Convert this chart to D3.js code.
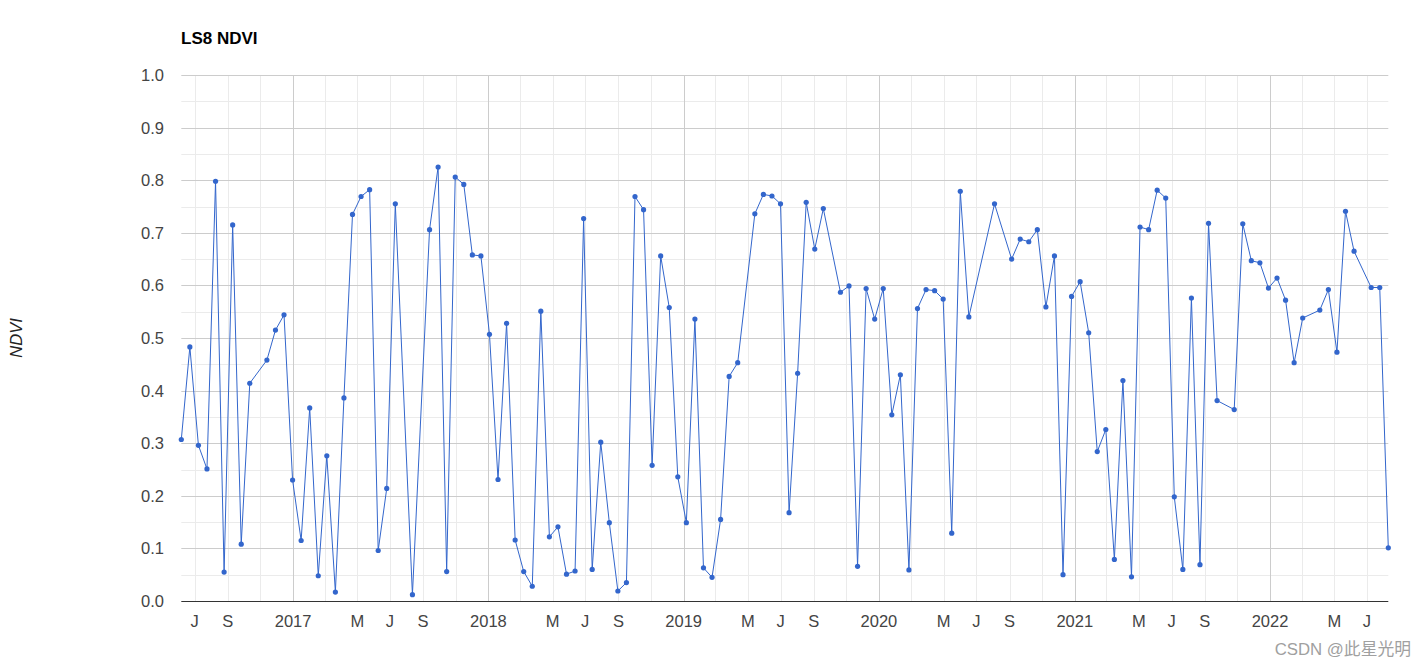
<!DOCTYPE html>
<html>
<head>
<meta charset="utf-8">
<script src="https://cdn.jsdelivr.net/npm/d3@7"></script>
<style>
  html, body { margin: 0; padding: 0; background: #fff; }
  svg { display: block; font-family: Arial, "Liberation Sans", sans-serif; }
</style>
</head>
<body>
<svg id="chart" width="1426" height="667"></svg>
<script>
// ---- Data ----
const chartTitle = "LS8 NDVI";
const yAxisTitle = "NDVI";
const watermark = "CSDN @此星光明";

const dates = [
  "2016-06-06","2016-06-22","2016-07-08","2016-07-24","2016-08-09","2016-08-25","2016-09-10","2016-09-26",
  "2016-10-12","2016-11-13","2016-11-29","2016-12-15","2016-12-31","2017-01-16","2017-02-01","2017-02-17",
  "2017-03-05","2017-03-21","2017-04-06","2017-04-22","2017-05-08","2017-05-24","2017-06-09","2017-06-25",
  "2017-07-11","2017-08-12","2017-09-13","2017-09-29","2017-10-15","2017-10-31","2017-11-16","2017-12-02",
  "2017-12-18","2018-01-03","2018-01-19","2018-02-04","2018-02-20","2018-03-08","2018-03-24","2018-04-09",
  "2018-04-25","2018-05-11","2018-05-27","2018-06-12","2018-06-28","2018-07-14","2018-07-30","2018-08-15",
  "2018-08-31","2018-09-16","2018-10-02","2018-10-18","2018-11-03","2018-11-19","2018-12-05","2018-12-21",
  "2019-01-06","2019-01-22","2019-02-07","2019-02-23","2019-03-11","2019-03-27","2019-04-12","2019-05-14",
  "2019-05-30","2019-06-15","2019-07-01","2019-07-17","2019-08-02","2019-08-18","2019-09-03","2019-09-19",
  "2019-10-21","2019-11-06","2019-11-22","2019-12-08","2019-12-24","2020-01-09","2020-01-25","2020-02-10",
  "2020-02-26","2020-03-13","2020-03-29","2020-04-14","2020-04-30","2020-05-16","2020-06-01","2020-06-17",
  "2020-08-04","2020-09-05","2020-09-21","2020-10-07","2020-10-23","2020-11-08","2020-11-24","2020-12-10",
  "2020-12-26","2021-01-11","2021-01-27","2021-02-12","2021-02-28","2021-03-16","2021-04-01","2021-04-17",
  "2021-05-03","2021-05-19","2021-06-04","2021-06-20","2021-07-06","2021-07-22","2021-08-07","2021-08-23",
  "2021-09-08","2021-09-24","2021-10-26","2021-11-11","2021-11-27","2021-12-13","2021-12-29","2022-01-14",
  "2022-01-30","2022-02-15","2022-03-03","2022-04-04","2022-04-20","2022-05-06","2022-05-22","2022-06-07",
  "2022-07-09","2022-07-25","2022-08-10"
];

const ndvi = [
  0.307,0.483,0.296,0.251,0.798,0.055,0.715,0.108,
  0.414,0.458,0.515,0.544,0.230,0.115,0.367,0.048,
  0.276,0.017,0.386,0.735,0.769,0.782,0.096,0.214,
  0.755,0.012,0.706,0.825,0.056,0.806,0.792,0.658,
  0.656,0.507,0.231,0.528,0.116,0.056,0.028,0.551,
  0.122,0.141,0.051,0.057,0.727,0.060,0.302,0.149,
  0.019,0.035,0.769,0.744,0.258,0.656,0.558,0.236,
  0.149,0.536,0.063,0.045,0.155,0.427,0.453,0.736,
  0.773,0.770,0.755,0.168,0.433,0.758,0.669,0.746,
  0.587,0.599,0.066,0.594,0.536,0.594,0.354,0.430,
  0.059,0.556,0.592,0.590,0.574,0.129,0.779,0.540,
  0.755,0.650,0.688,0.683,0.706,0.559,0.656,0.050,
  0.579,0.607,0.510,0.284,0.326,0.079,0.419,0.046,
  0.711,0.706,0.781,0.766,0.198,0.060,0.576,0.069,
  0.718,0.381,0.364,0.717,0.647,0.643,0.595,0.614,
  0.572,0.453,0.538,0.553,0.592,0.473,0.741,0.665,
  0.596,0.596,0.101
];

const yTicks = [0.0, 0.1, 0.2, 0.3, 0.4, 0.5, 0.6, 0.7, 0.8, 0.9, 1.0];
const yMinorTicks = [0.05, 0.15, 0.25, 0.35, 0.45, 0.55, 0.65, 0.75, 0.85, 0.95];
const monthLabels = {4: "M", 6: "J", 8: "S"}; // May, Jul, Sep; January shows the year

// ---- Build ----
(function () {
const parse = d3.timeParse("%Y-%m-%d");
const data = dates.map((d, i) => ({date: parse(d), value: ndvi[i]}));

const svg = d3.select("#chart");
const pLeft = 181.3, pRight = 1388.3, pTop = 75, pBottom = 601;

const x = d3.scaleTime()
  .domain(d3.extent(data, d => d.date))
  .range([pLeft, pRight]);
const y = d3.scaleLinear().domain([0, 1]).range([pBottom, pTop]);

// minor horizontal grid
svg.append("g").selectAll("line").data(yMinorTicks).join("line")
  .attr("x1", pLeft).attr("x2", pRight)
  .attr("y1", d => Math.round(y(d)) + 0.5).attr("y2", d => Math.round(y(d)) + 0.5)
  .attr("stroke", "#ebebeb").attr("stroke-width", 1);

// vertical grid (every 2 months)
const monthTicks = x.ticks(d3.timeMonth.every(2));
svg.append("g").selectAll("line").data(monthTicks).join("line")
  .attr("x1", d => Math.round(x(d)) + 0.5).attr("x2", d => Math.round(x(d)) + 0.5)
  .attr("y1", pTop).attr("y2", pBottom)
  .attr("stroke", d => d.getMonth() === 0 ? "#cccccc" : "#ebebeb")
  .attr("stroke-width", 1);

// major horizontal grid
svg.append("g").selectAll("line").data(yTicks.filter(v => v > 0)).join("line")
  .attr("x1", pLeft).attr("x2", pRight)
  .attr("y1", d => Math.round(y(d)) + 0.5).attr("y2", d => Math.round(y(d)) + 0.5)
  .attr("stroke", "#cccccc").attr("stroke-width", 1);

// baseline
svg.append("line")
  .attr("x1", pLeft).attr("x2", pRight)
  .attr("y1", Math.round(y(0)) + 0.5).attr("y2", Math.round(y(0)) + 0.5)
  .attr("stroke", "#333333").attr("stroke-width", 1);

// y tick labels
svg.append("g").selectAll("text").data(yTicks).join("text")
  .attr("x", 164).attr("y", d => y(d))
  .attr("dy", "0.36em")
  .attr("text-anchor", "end")
  .attr("font-size", 16.5).attr("fill", "#444444")
  .text(d => d3.format(".1f")(d));

// x tick labels
const labelTicks = monthTicks.filter(d => d.getMonth() === 0 || monthLabels[d.getMonth()]);
svg.append("g").selectAll("text").data(labelTicks).join("text")
  .attr("x", d => x(d)).attr("y", 627)
  .attr("text-anchor", "middle")
  .attr("font-size", 16.5).attr("fill", "#444444")
  .text(d => d.getMonth() === 0 ? d3.timeFormat("%Y")(d) : monthLabels[d.getMonth()]);

// line
const line = d3.line().x(d => x(d.date)).y(d => y(d.value));
svg.append("path").datum(data)
  .attr("d", line)
  .attr("fill", "none")
  .attr("stroke", "#3366cc")
  .attr("stroke-width", 1);

// points
svg.append("g").selectAll("circle").data(data).join("circle")
  .attr("cx", d => x(d.date)).attr("cy", d => y(d.value))
  .attr("r", 2.6)
  .attr("fill", "#3366cc");

// title
svg.append("text")
  .attr("x", 181).attr("y", 44)
  .attr("font-size", 17).attr("font-weight", "bold").attr("fill", "#000")
  .text(chartTitle);

// y-axis title
svg.append("text")
  .attr("transform", "translate(22,338) rotate(-90)")
  .attr("text-anchor", "middle")
  .attr("font-size", 16.5).attr("font-style", "italic").attr("fill", "#222")
  .text(yAxisTitle);

// watermark
svg.append("text")
  .attr("x", 1411).attr("y", 655)
  .attr("text-anchor", "end")
  .attr("font-size", 16.8).attr("fill", "#a0a0a0")
  .attr("font-family", "Arial, 'Liberation Sans', 'Noto Sans CJK SC', sans-serif")
  .text(watermark);
})();
</script>
</body>
</html>
